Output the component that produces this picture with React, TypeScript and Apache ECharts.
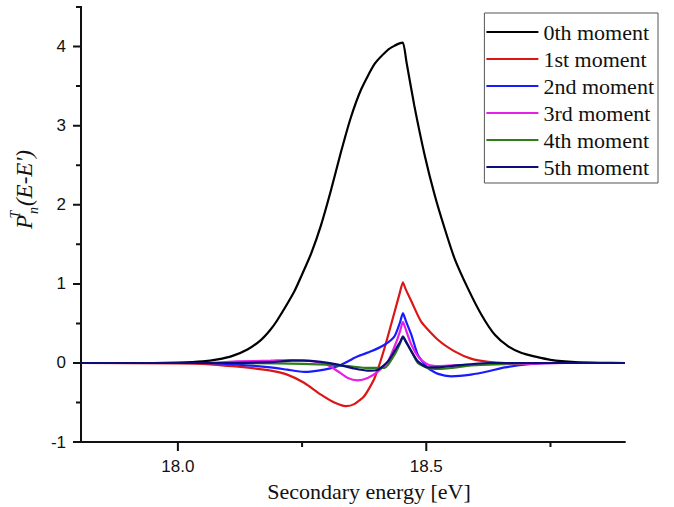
import React, { useEffect, useRef } from "react";
import * as echarts from "echarts";

const seriesNames = ["0th moment", "1st moment", "2nd moment", "3rd moment", "4th moment", "5th moment"];
const seriesColors = ["#000000", "#dc1616", "#1a1aff", "#e51fe5", "#2e7d18", "#0c0c7a"];

const m0E = [17.805, 17.95, 18.0, 18.05, 18.08, 18.11, 18.14, 18.167, 18.185, 18.2, 18.234, 18.25, 18.268, 18.288, 18.308, 18.328, 18.348, 18.369, 18.396, 18.423, 18.436, 18.446, 18.453, 18.46, 18.476, 18.497, 18.517, 18.537, 18.557, 18.584, 18.611, 18.638, 18.665, 18.692, 18.72, 18.75, 18.8, 18.85, 18.9];
const m0V = [0, 0, 0.005, 0.02, 0.045, 0.09, 0.17, 0.29, 0.41, 0.54, 0.9, 1.12, 1.38, 1.74, 2.18, 2.66, 3.1, 3.46, 3.78, 3.96, 4.01, 4.04, 4.05, 3.81, 3.25, 2.62, 2.12, 1.7, 1.32, 0.94, 0.61, 0.356, 0.21, 0.126, 0.08, 0.04, 0.012, 0.003, 0];

const m1E = [17.805, 18.0, 18.05, 18.11, 18.15, 18.187, 18.22, 18.254, 18.288, 18.315, 18.338, 18.355, 18.375, 18.396, 18.416, 18.446, 18.453, 18.458, 18.47, 18.49, 18.524, 18.557, 18.59, 18.625, 18.66, 18.9];
const m1V = [0, -0.005, -0.01, -0.04, -0.065, -0.097, -0.147, -0.25, -0.4, -0.5, -0.545, -0.52, -0.42, -0.19, 0.19, 0.87, 1.02, 0.94, 0.78, 0.52, 0.29, 0.147, 0.055, 0.013, 0, 0];

const m2E = [17.805, 18.05, 18.12, 18.187, 18.22, 18.254, 18.295, 18.322, 18.342, 18.362, 18.389, 18.416, 18.436, 18.447, 18.453, 18.459, 18.47, 18.483, 18.503, 18.524, 18.55, 18.59, 18.625, 18.658, 18.712, 18.76, 18.9];
const m2V = [0, 0, -0.02, -0.055, -0.084, -0.113, -0.084, -0.04, 0.02, 0.084, 0.147, 0.23, 0.336, 0.51, 0.63, 0.53, 0.356, 0.105, -0.063, -0.138, -0.168, -0.147, -0.105, -0.055, -0.013, 0, 0];

const m3E = [17.805, 18.05, 18.12, 18.187, 18.227, 18.274, 18.3, 18.322, 18.342, 18.362, 18.382, 18.403, 18.423, 18.44, 18.447, 18.453, 18.459, 18.47, 18.486, 18.503, 18.524, 18.557, 18.62, 18.7, 18.78, 18.9];
const m3V = [0, 0, 0.02, 0.03, 0.038, 0.02, -0.02, -0.105, -0.19, -0.22, -0.19, -0.105, 0.02, 0.27, 0.4, 0.52, 0.42, 0.23, 0.063, -0.02, -0.04, -0.03, -0.02, -0.01, 0, 0];

const m4E = [17.805, 18.1, 18.2, 18.3, 18.343, 18.382, 18.416, 18.436, 18.447, 18.453, 18.459, 18.47, 18.483, 18.503, 18.524, 18.55, 18.59, 18.65, 18.72, 18.9];
const m4V = [0, 0, -0.005, -0.02, -0.04, -0.063, -0.063, 0.105, 0.243, 0.336, 0.27, 0.147, 0, -0.063, -0.075, -0.063, -0.03, -0.01, 0, 0];

const m5E = [17.805, 18.1, 18.187, 18.23, 18.254, 18.288, 18.322, 18.355, 18.382, 18.403, 18.423, 18.44, 18.447, 18.453, 18.459, 18.47, 18.483, 18.503, 18.524, 18.557, 18.625, 18.9];
const m5V = [0, 0, 0.01, 0.03, 0.03, 0.013, -0.02, -0.07, -0.097, -0.084, 0.02, 0.19, 0.26, 0.33, 0.27, 0.147, 0.02, -0.055, -0.055, -0.034, 0, 0];

const energies = [m0E, m1E, m2E, m3E, m4E, m5E];
const values = [m0V, m1V, m2V, m3V, m4V, m5V];

const xMin = 17.805;
const xMax = 18.9;
const yMin = -1;
const yMax = 4.5;
const xLabelStep = 0.5;
const yLabelStep = 1;
const xMajorTicks = [18.0, 18.5];
const xMinorTicks = [18.25, 18.75];
const yMajorTicks = [-1, 0, 1, 2, 3, 4];
const yMinorTicks = [-0.5, 0.5, 1.5, 2.5, 3.5, 4.5];

const SANS = "Liberation Sans, Arial, sans-serif";
const SERIF = "Liberation Serif, Times New Roman, serif";
const INK = "#111111";
const TICK_W = 2;

const onStep = (v: number, step: number) => Math.abs(v / step - Math.round(v / step)) < 1e-6;

export default function App() {
  const ref = useRef<HTMLDivElement>(null);

  useEffect(() => {
    if (!ref.current) return;
    const chart = echarts.init(ref.current, null, { renderer: "svg" });

    const lines = seriesNames.map((name, i) => ({
      name,
      type: "line",
      data: energies[i].map((e, k) => [e, values[i][k]]),
      symbol: "none",
      showSymbol: false,
      smooth: 0.2,
      lineStyle: { color: seriesColors[i], width: 2.2 },
      itemStyle: { color: seriesColors[i] },
      clip: true,
    }));

    chart.setOption({
      animation: false,
      backgroundColor: "#ffffff",
      grid: { left: 80, right: 49, top: 7, bottom: 63, containLabel: false },
      legend: {
        orient: "vertical",
        right: 16,
        top: 13,
        padding: [8, 4, 5, 2],
        itemGap: 5,
        itemWidth: 52,
        itemHeight: 2,
        icon: "rect",
        borderColor: "#555555",
        borderWidth: 1,
        backgroundColor: "#ffffff",
        textStyle: { fontFamily: SERIF, fontSize: 22, color: INK, lineHeight: 22 },
        data: seriesNames,
      },
      xAxis: {
        type: "value",
        min: xMin,
        max: xMax,
        splitNumber: 2,
        name: "Secondary energy [eV]",
        nameLocation: "middle",
        nameGap: 35,
        nameTextStyle: { fontFamily: SERIF, fontSize: 22, color: INK, padding: [0, 0, 0, 32] },
        axisLine: { show: true, onZero: false, lineStyle: { color: INK, width: 1.8 } },
        axisTick: { show: false },
        minorTick: { show: false },
        axisLabel: {
          show: true,
          showMinLabel: false,
          showMaxLabel: false,
          margin: 16,
          fontFamily: SANS,
          fontSize: 17,
          color: INK,
          formatter: (v: number) => (onStep(v, xLabelStep) ? v.toFixed(1) : ""),
        },
        splitLine: { show: false },
      },
      yAxis: {
        type: "value",
        min: yMin,
        max: yMax,
        interval: 1,
        name: "{p|P}{sup|T}{sub|n}{p|(E-E')}",
        nameLocation: "middle",
        nameRotate: 90,
        nameGap: 32,
        nameTextStyle: {
          fontFamily: SERIF,
          fontStyle: "italic",
          fontSize: 23,
          color: INK,
          padding: [0, 0, 0, 70],
          rich: {
            p: { fontFamily: SERIF, fontStyle: "italic", fontSize: 23, color: INK, lineHeight: 32, verticalAlign: "middle" },
            sup: { fontFamily: SERIF, fontStyle: "italic", fontSize: 14, color: INK, lineHeight: 14, verticalAlign: "top", width: 1 },
            sub: { fontFamily: SERIF, fontStyle: "italic", fontSize: 14, color: INK, lineHeight: 14, verticalAlign: "bottom", padding: [0, 1, 0, 0] },
          },
        },
        axisLine: { show: true, onZero: false, lineStyle: { color: INK, width: 1.8 } },
        axisTick: { show: false },
        minorTick: { show: false },
        axisLabel: {
          show: true,
          showMaxLabel: false,
          margin: 15,
          fontFamily: SANS,
          fontSize: 17,
          color: INK,
          formatter: (v: number) => (onStep(v, yLabelStep) ? String(v) : ""),
        },
        splitLine: { show: false },
      },
      series: lines,
    });

    // Tick marks drawn as one comb-shaped polyline per axis, placed through the chart's own scales
    const px = (x: number, y: number) => chart.convertToPixel({ gridIndex: 0 }, [x, y]) as number[];
    const xTicks = [
      ...xMajorTicks.map((v) => ({ v, len: 9 })),
      ...xMinorTicks.map((v) => ({ v, len: 5 })),
    ].sort((a, b) => a.v - b.v);
    const yTicks = [
      ...yMajorTicks.map((v) => ({ v, len: 8 })),
      ...yMinorTicks.map((v) => ({ v, len: 5 })),
    ].sort((a, b) => a.v - b.v);

    const xComb: number[][] = [px(xMin, yMin)];
    xTicks.forEach(({ v, len }) => {
      const p = px(v, yMin);
      xComb.push([p[0], p[1]], [p[0], p[1] + len], [p[0], p[1]]);
    });
    xComb.push(px(xMax, yMin));

    const yComb: number[][] = [px(xMin, yMin)];
    yTicks.forEach(({ v, len }) => {
      const p = px(xMin, v);
      yComb.push([p[0], p[1]], [p[0] - len, p[1]], [p[0], p[1]]);
    });

    chart.setOption({
      graphic: {
        elements: [
          {
            type: "polyline",
            silent: true,
            z: 100,
            shape: { points: xComb },
            style: { stroke: INK, lineWidth: TICK_W, fill: null },
          },
          {
            type: "polyline",
            silent: true,
            z: 100,
            shape: { points: yComb },
            style: { stroke: INK, lineWidth: TICK_W, fill: null },
          },
        ],
      },
    });

    return () => {
      chart.dispose();
    };
  }, []);

  return (
    <div
      ref={ref}
      style={{ position: "fixed", left: 0, top: 0, width: 674, height: 507, background: "#ffffff" }}
    />
  );
}
